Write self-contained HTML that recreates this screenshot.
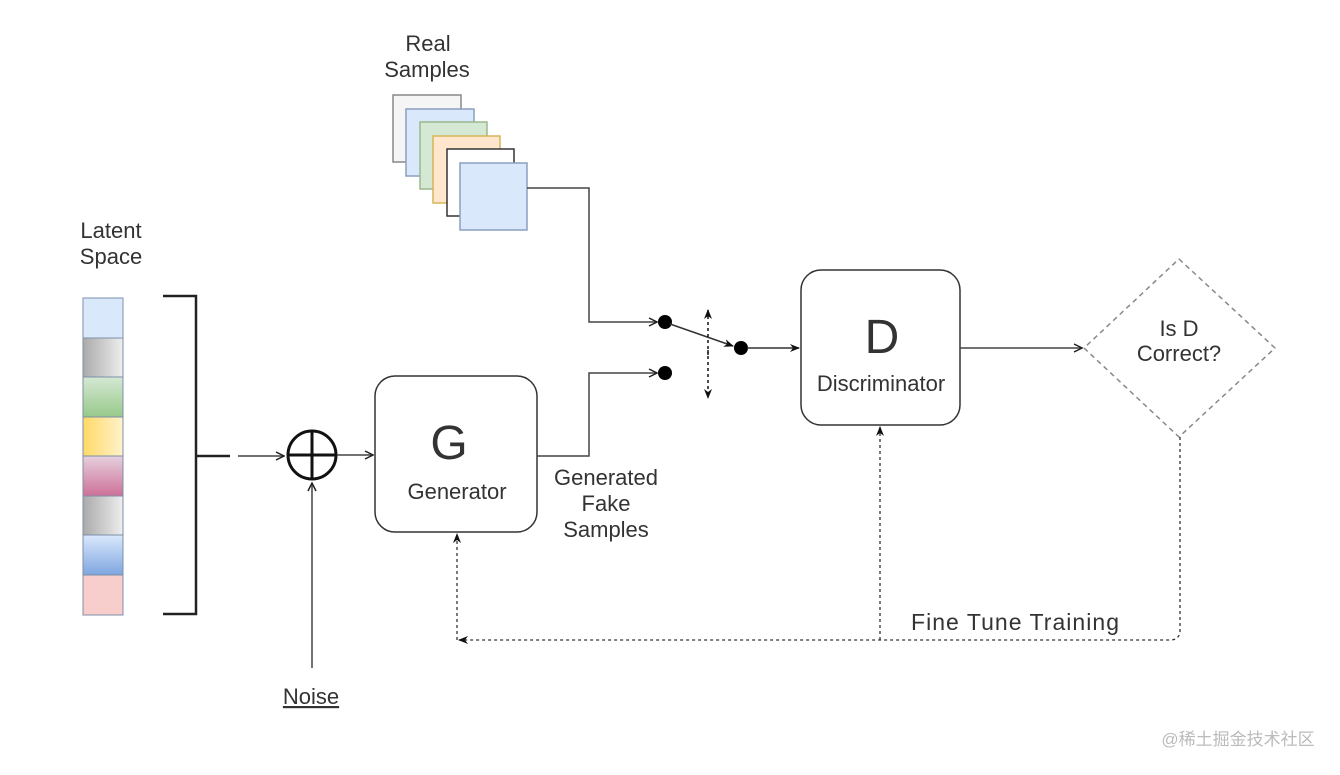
<!DOCTYPE html>
<html><head><meta charset="utf-8"><style>
html,body{margin:0;padding:0;background:#fff;}
svg text{font-family:"Liberation Sans","Noto Sans CJK SC",sans-serif;fill:#333;font-size:22px;}
</style></head><body>
<svg width="1340" height="770" viewBox="0 0 1340 770" xmlns="http://www.w3.org/2000/svg">
<defs>
<marker id="ar" markerWidth="10" markerHeight="10" refX="9" refY="5" orient="auto" markerUnits="userSpaceOnUse"><path d="M1,1 L9,5 L1,9" fill="none" stroke="#222" stroke-width="1.5"/></marker>
<marker id="af" markerWidth="10" markerHeight="10" refX="9" refY="5" orient="auto" markerUnits="userSpaceOnUse"><path d="M0,1 L10,5 L0,9 L3,5z" fill="#111"/></marker>
<linearGradient id="g1" x1="0" x2="1"><stop offset="0" stop-color="#aaa"/><stop offset="1" stop-color="#eee"/></linearGradient>
<linearGradient id="g2" x1="0" y1="0" x2="0" y2="1"><stop offset="0" stop-color="#d5e8d4"/><stop offset="1" stop-color="#97c98a"/></linearGradient>
<linearGradient id="g3" x1="0" x2="1"><stop offset="0" stop-color="#ffd966"/><stop offset="1" stop-color="#fff2cc"/></linearGradient>
<linearGradient id="g4" x1="0" y1="0" x2="0" y2="1"><stop offset="0" stop-color="#e6d0de"/><stop offset="1" stop-color="#cd7097"/></linearGradient>
<linearGradient id="g5" x1="0" y1="0" x2="0" y2="1"><stop offset="0" stop-color="#dae8fc"/><stop offset="1" stop-color="#7ea6e0"/></linearGradient>
</defs>

<text x="428" y="51" text-anchor="middle">Real</text>
<text x="427" y="77" text-anchor="middle">Samples</text>
<rect x="393" y="95" width="68" height="67" fill="#f5f5f5" stroke="#888" stroke-width="1.5"/>
<rect x="406" y="109" width="68" height="67" fill="#dae8fc" stroke="#8a9fc0" stroke-width="1.5"/>
<rect x="420" y="122" width="67" height="67" fill="#d5e8d4" stroke="#9ab88f" stroke-width="1.5"/>
<rect x="433" y="136" width="67" height="67" fill="#ffe6cc" stroke="#d6b656" stroke-width="1.5"/>
<rect x="447" y="149" width="67" height="67" fill="#fff" stroke="#333" stroke-width="1.5"/>
<rect x="460" y="163" width="67" height="67" fill="#dae8fc" stroke="#8a9fc0" stroke-width="1.5"/>

<text x="111" y="238" text-anchor="middle">Latent</text>
<text x="111" y="264" text-anchor="middle">Space</text>
<g stroke="#7d8fa8" stroke-width="1">
<rect x="83" y="298" width="40" height="40" fill="#dae8fc"/>
<rect x="83" y="338" width="40" height="39" fill="url(#g1)"/>
<rect x="83" y="377" width="40" height="40" fill="url(#g2)"/>
<rect x="83" y="417" width="40" height="39" fill="url(#g3)"/>
<rect x="83" y="456" width="40" height="40" fill="url(#g4)"/>
<rect x="83" y="496" width="40" height="39" fill="url(#g1)"/>
<rect x="83" y="535" width="40" height="40" fill="url(#g5)"/>
<rect x="83" y="575" width="40" height="40" fill="#f8cecc"/>
</g>
<path d="M163,296 H196 V614 H163 M196,456 H230" fill="none" stroke="#222" stroke-width="2.5"/>
<line x1="238" y1="456" x2="284" y2="456" stroke="#444" stroke-width="1.5" marker-end="url(#ar)"/>
<circle cx="312" cy="455" r="24" fill="none" stroke="#111" stroke-width="3"/>
<path d="M288,455 H336 M312,431 V479" stroke="#111" stroke-width="3"/>
<line x1="312" y1="668" x2="312" y2="483" stroke="#444" stroke-width="1.5" marker-end="url(#ar)"/>
<text x="311" y="704" text-anchor="middle" text-decoration="underline">Noise</text>
<line x1="337" y1="455" x2="373" y2="455" stroke="#444" stroke-width="1.5" marker-end="url(#ar)"/>

<rect x="375" y="376" width="162" height="156" rx="20" fill="#fff" stroke="#333" stroke-width="1.5"/>
<text x="449" y="459" style="font-size:48px" text-anchor="middle">G</text>
<text x="457" y="499" text-anchor="middle">Generator</text>
<text x="606" y="485" text-anchor="middle">Generated</text>
<text x="606" y="511" text-anchor="middle">Fake</text>
<text x="606" y="537" text-anchor="middle">Samples</text>

<path d="M527,188 H589 V322 H657" fill="none" stroke="#444" stroke-width="1.5" marker-end="url(#ar)"/>
<path d="M537,456 H589 V373 H657" fill="none" stroke="#444" stroke-width="1.5" marker-end="url(#ar)"/>
<circle cx="665" cy="322" r="7" fill="#000"/>
<circle cx="665" cy="373" r="7" fill="#000"/>
<circle cx="741" cy="348" r="7" fill="#000"/>
<line x1="670" y1="324" x2="733" y2="346" stroke="#333" stroke-width="1.5" marker-end="url(#af)"/>
<line x1="708" y1="355" x2="708" y2="310" stroke="#111" stroke-width="1.5" stroke-dasharray="3,3" marker-end="url(#af)"/>
<line x1="708" y1="350" x2="708" y2="398" stroke="#111" stroke-width="1.5" stroke-dasharray="3,3" marker-end="url(#af)"/>
<line x1="747" y1="348" x2="799" y2="348" stroke="#333" stroke-width="1.5" marker-end="url(#af)"/>

<rect x="801" y="270" width="159" height="155" rx="20" fill="#fff" stroke="#333" stroke-width="1.5"/>
<text x="882" y="353" style="font-size:48px" text-anchor="middle">D</text>
<text x="881" y="391" text-anchor="middle">Discriminator</text>
<line x1="960" y1="348" x2="1082" y2="348" stroke="#444" stroke-width="1.5" marker-end="url(#ar)"/>

<path d="M1179,259 L1275,348 L1179,437 L1084,348 Z" fill="#fff" stroke="#888" stroke-width="1.5" stroke-dasharray="5,4" stroke-linejoin="round"/>
<text x="1179" y="336" text-anchor="middle">Is D</text>
<text x="1179" y="361" text-anchor="middle">Correct?</text>

<path d="M1180,437 V630 Q1180,640 1170,640 H459" fill="none" stroke="#333" stroke-width="1.3" stroke-dasharray="3,3" marker-end="url(#af)"/>
<line x1="457" y1="640" x2="457" y2="534" stroke="#333" stroke-width="1.3" stroke-dasharray="3,3" marker-end="url(#af)"/>
<line x1="880" y1="640" x2="880" y2="427" stroke="#333" stroke-width="1.3" stroke-dasharray="3,3" marker-end="url(#af)"/>
<text x="1015" y="630" style="font-size:23px" text-anchor="middle" textLength="208">Fine Tune Training</text>

<text x="1238" y="745" style="font-size:17px;fill:#bbb" text-anchor="middle">@稀土掘金技术社区</text>
</svg>
</body></html>
